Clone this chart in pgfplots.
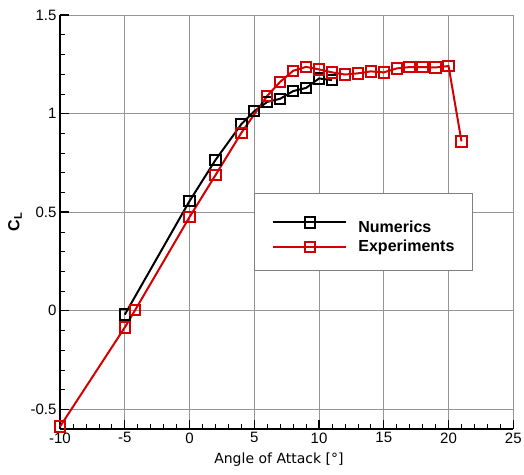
\documentclass[border=0pt]{standalone}
\usepackage{pgfplots}
\pgfplotsset{compat=1.18}
\usepackage{fontspec}
\setmainfont{Liberation Sans}
\newfontfamily\dejavu{DejaVu Sans}
\definecolor{expred}{RGB}{210,0,0}
\definecolor{gridgray}{RGB}{150,150,150}
\begin{document}
\begin{tikzpicture}[x=1pt,y=1pt]
\useasboundingbox (0,0) rectangle (524,474);
\begin{axis}[
  at={(60pt,45pt)}, anchor=south west,
  scale only axis, width=453.3pt, height=414pt,
  xmin=-10, xmax=25, ymin=-0.6, ymax=1.5,
  xtick={-10,-5,0,5,10,15,20,25},
  ytick={-0.5,0,0.5,1,1.5},
  minor x tick num=4, minor y tick num=4,
  axis x line*=bottom, axis y line*=left,
  axis line style={black, line width=2pt},
  tick align=inside,
  major tick length=9pt, minor tick length=5pt,
  every tick/.style={black, line width=1.3pt},
  minor tick style={black, line width=0.7pt},
  grid=major,
  major grid style={gridgray, line width=0.8pt},
  clip=false,
  ticklabel style={font=\fontsize{15}{15}\selectfont},
  /pgf/number format/assume math mode=true,
  yticklabel style={/pgf/number format/fixed, /pgf/number format/precision=1},
  xlabel={\dejavu Angle of Attack [°]},
  xlabel style={at={(axis description cs:0.483,-0.0845)}, anchor=base, font=\fontsize{14}{14}\selectfont},
  ylabel={\bfseries C\textsubscript{L}},
  ylabel style={at={(axis description cs:-0.0993,0.5)}, anchor=center, font=\fontsize{16}{16}\selectfont},
  legend style={at={(axis description cs:0.428,0.570)}, anchor=north west,
    draw=gray, fill=white, line width=0.8pt,
    inner xsep=18pt, inner ysep=15.3pt,
    font=\fontsize{16}{16}\selectfont\bfseries,
    nodes={inner sep=0pt, text depth=4pt}, row sep=3.3pt, column sep=11pt},
  legend cell align=left,
  legend image code/.code={\draw[mark repeat=2,mark phase=2] plot coordinates {(0pt,0pt) (36.5pt,0pt) (73pt,0pt)};},
]
\addplot[black, line width=2pt, mark=square, mark size=5.2pt, mark options={line width=2pt, fill=none}]
coordinates {(-5,-0.02) (0,0.556) (2,0.764) (4,0.946) (5,1.012) (6,1.059) (7,1.075) (8,1.114) (9,1.13) (10,1.178) (11,1.17)};
\addlegendentry{\rule{0pt}{23.4pt}Numerics}
\addplot[expred, line width=2pt, mark=square, mark size=5.2pt, mark options={line width=2pt, fill=none}]
coordinates {(-10,-0.588) (-5,-0.085) (-4.2,0.003) (0,0.475) (2,0.687) (4,0.902) (6,1.09) (7,1.161) (8,1.217) (9,1.237) (10,1.224) (11,1.209) (12,1.198) (13,1.204) (14,1.214) (15,1.209) (16,1.229) (17,1.236) (18,1.236) (19,1.234) (20,1.241) (21,0.859)};
\addlegendentry{Experiments}
\end{axis}
\end{tikzpicture}
\end{document}
